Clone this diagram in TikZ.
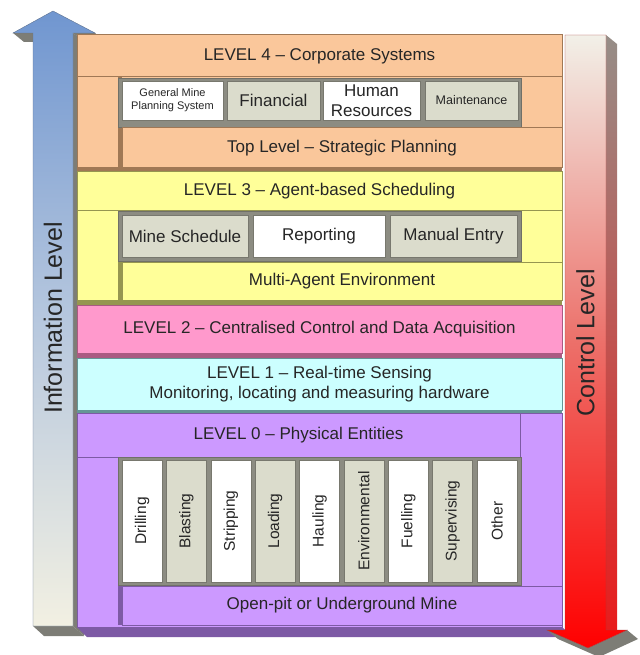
\documentclass[tikz,border=0pt]{standalone}
\usepackage{fontspec}
\setmainfont{Liberation Sans}
\definecolor{l4fill}{RGB}{250,199,155}
\definecolor{l4dark}{RGB}{160,120,85}
\definecolor{l3fill}{RGB}{255,255,153}
\definecolor{l3dark}{RGB}{150,150,80}
\definecolor{l2fill}{RGB}{255,153,204}
\definecolor{l2dark}{RGB}{170,90,130}
\definecolor{l1fill}{RGB}{204,255,255}
\definecolor{l1dark}{RGB}{100,150,150}
\definecolor{l0fill}{RGB}{204,153,255}
\definecolor{l0dark}{RGB}{125,90,165}
\definecolor{boxgray}{RGB}{219,220,204}
\definecolor{boxline}{RGB}{120,120,110}
\definecolor{traygray}{RGB}{140,140,130}
\definecolor{undergray}{RGB}{125,125,118}
\newcommand\lvfont{\fontsize{17}{20.5}\selectfont}
\newcommand\colfont{\fontsize{15.5}{18}\selectfont}
\newcommand\sidefont{\fontsize{25}{30}\selectfont}
\begin{document}
\begin{tikzpicture}[x=1pt,y=-1pt,
          band/.style={draw=#1dark,fill=#1fill,line width=1pt,inner sep=0pt,text=black!85,font=\lvfont,align=center},
          tray/.style={fill=traygray,draw=traygray!80!black,line width=0.5pt,inner sep=0pt},
          box/.style={draw=boxline,fill=#1,line width=0.5pt,inner sep=0pt,text=black!85,font=\lvfont,align=center},
          col/.style={box=#1,rotate=90,minimum width=122pt,minimum height=40pt,font=\colfont},
          side/.style={rotate=90,inner sep=0pt,text=black!85,font=\sidefont}
          ]
          \useasboundingbox (0,0) rectangle (639,655);
          \fill[undergray] (13,33) -- (33,33) -- (33,42) -- (24,42) -- cycle;
          \fill[undergray] (73,33) -- (95,33) -- (106,42) -- (84,42) -- cycle;
          \fill[undergray] (73,33) -- (84,42) -- (84,636) -- (73,626) -- cycle;
          \fill[undergray] (33,626) -- (73,626) -- (84,636) -- (44,636) -- cycle;
          \shade[draw={rgb,255:red,95;green,115;blue,145},line width=0.4pt,
                 top color={rgb,255:red,112;green,150;blue,208},
                 bottom color={rgb,255:red,242;green,240;blue,226},
                 middle color={rgb,255:red,182;green,199;blue,222}]
                 (33,626) -- (33,33) -- (13,33) -- (53,11) -- (95,33) -- (73,33) -- (73,626) -- cycle;
          \node[side] (info) at (53,318) {Information Level};

          \node[band=l4,minimum width=485pt,minimum height=133pt] (l4) at (319.5,101.5) {};
          \fill[l4dark] (77,168) rectangle (562,172);
          \node[band=l4,minimum width=485pt,minimum height=42pt] (l4t) at (319.5,56) {LEVEL 4 – Corporate Systems};
          \fill[l4dark] (118,77) rectangle (122,168);
          \node[tray,minimum width=403pt,minimum height=49pt] (l4tray) at (319.5,102.5) {};
          \node[box=white,minimum width=101pt,minimum height=39pt,font=\fontsize{11}{13}\selectfont] (gmps) at (172.5,100.5) {General Mine\\Planning System};
          \node[box=boxgray,minimum width=93pt,minimum height=39pt] (fin) at (273.5,100.5) {Financial};
          \node[box=white,minimum width=97pt,minimum height=39pt] (hr) at (371.5,100.5) {Human\\Resources};
          \node[box=boxgray,minimum width=93pt,minimum height=39pt,font=\fontsize{12.5}{15}\selectfont] (maint) at (471.5,100.5) {Maintenance};
          \node[band=l4,minimum width=440pt,minimum height=40pt] (top) at (342,148) {Top Level – Strategic Planning};

          \node[band=l3,minimum width=485pt,minimum height=128pt] (l3) at (319.5,236) {};
          \fill[l3dark] (77,300) rectangle (562,305);
          \node[band=l3,minimum width=485pt,minimum height=38pt] (l3t) at (319.5,191) {LEVEL 3 – Agent-based Scheduling};
          \fill[l3dark] (118,210) rectangle (122,300);
          \node[tray,minimum width=403pt,minimum height=50pt] (l3tray) at (319.5,236) {};
          \node[box=boxgray,minimum width=126pt,minimum height=42pt] (sched) at (185,236) {Mine Schedule};
          \node[box=white,minimum width=132pt,minimum height=42pt] (rep) at (319,236) {Reporting};
          \node[box=boxgray,minimum width=127pt,minimum height=42pt] (manual) at (453.5,236) {Manual Entry};
          \node[band=l3,minimum width=440pt,minimum height=38pt] (mas) at (342,281) {Multi-Agent Environment};

          \node[band=l2,minimum width=485pt,minimum height=48pt] (l2) at (319.5,329) {LEVEL 2 – Centralised Control and Data Acquisition};
          \fill[l2dark] (77,353) rectangle (562,358);

          \node[band=l1,minimum width=485pt,minimum height=52pt] (l1) at (319.5,384) {LEVEL 1 – Real-time Sensing\\Monitoring, locating and measuring hardware};
          \fill[l1dark] (77,410) rectangle (562,413);

          \fill[l0dark] (77,627) -- (562,627) -- (573,637) -- (87,637) -- cycle;
          \node[band=l0,minimum width=485pt,minimum height=214pt] (l0) at (319.5,520) {};
          \node[band=l0,minimum width=443pt,minimum height=44pt] (l0t) at (298.5,435) {LEVEL 0 – Physical Entities};
          \fill[l0dark] (118,457) rectangle (122,625);
          \node[tray,minimum width=403pt,minimum height=128pt] (l0tray) at (319.5,521) {};
          \node[col=white] (drill) at (142,521) {Drilling};
          \node[col=boxgray] (blast) at (186.4,521) {Blasting};
          \node[col=white] (strip) at (230.75,521) {Stripping};
          \node[col=boxgray] (load) at (275.1,521) {Loading};
          \node[col=white] (haul) at (319.5,521) {Hauling};
          \node[col=boxgray] (env) at (363.9,521) {Environmental};
          \node[col=white] (fuel) at (408.25,521) {Fuelling};
          \node[col=boxgray] (super) at (452.6,521) {Supervising};
          \node[col=white] (other) at (497,521) {Other};
          \node[band=l0,minimum width=440pt,minimum height=39pt] (mine) at (342,605.5) {Open-pit or Underground Mine};

          \shade[top color={rgb,255:red,150;green,142;blue,136},bottom color={rgb,255:red,232;green,28;blue,28}]
                 (606,35) -- (617,44) -- (617,630) -- (606,630) -- cycle;
          \fill[undergray] (547,630) -- (588,648) -- (627,630) -- (638,639) -- (599,657) -- (558,639) -- cycle;
          \shade[draw={rgb,255:red,170;green,60;blue,60},line width=0.4pt,
                 top color={rgb,255:red,242;green,240;blue,232},
                 bottom color=red,
                 middle color={rgb,255:red,236;green,112;blue,106}]
                 (565,35) -- (606,35) -- (606,630) -- (627,630) -- (588,648) -- (547,630) -- (565,630) -- cycle;
          \node[side] (ctrl) at (585.5,343) {Control Level};
        \end{tikzpicture}
\end{document}
